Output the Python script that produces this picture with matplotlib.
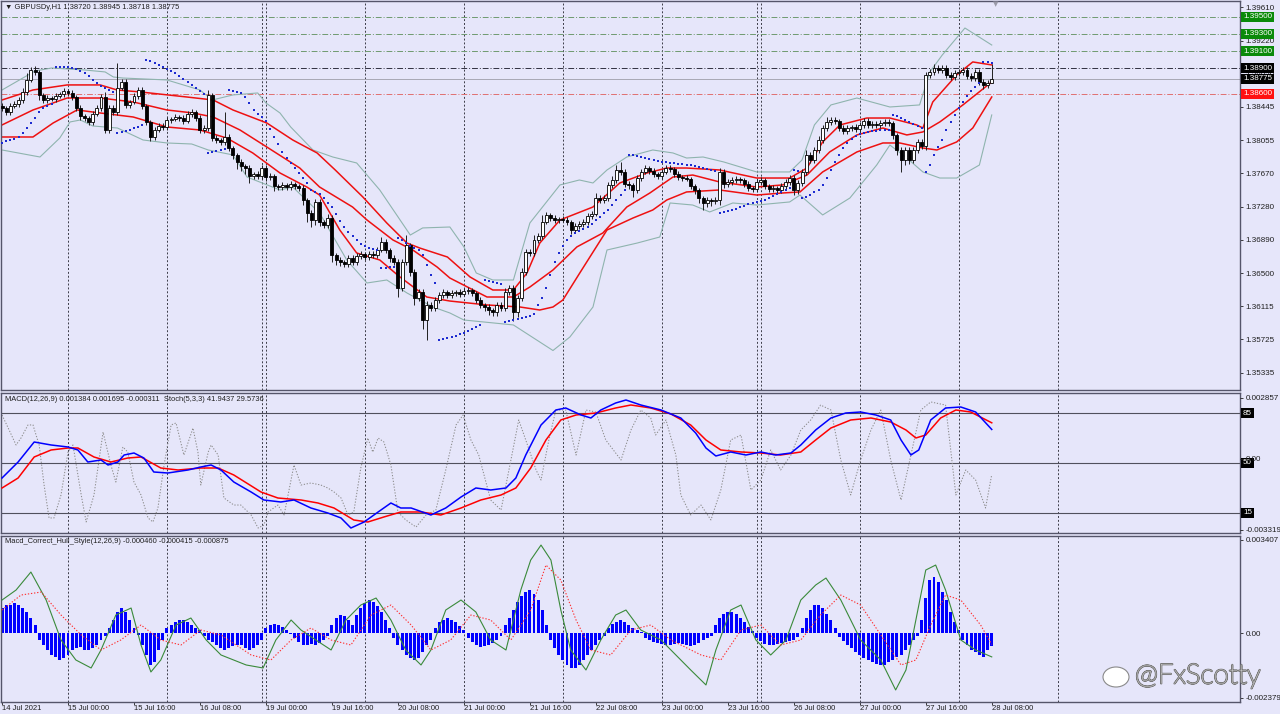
import numpy as np
import matplotlib.pyplot as plt
import matplotlib.patheffects as pe
from matplotlib.patches import Ellipse

plt.rcParams['font.family'] = ['Liberation Sans', 'DejaVu Sans']

# ── Data (GBPUSD H1, 14 Jul 08:00 .. 28 Jul 08:00, one value per bar) ─────
first_open = 1.38457
close = [
    1.38433, 1.38387, 1.38457, 1.38480, 1.38527, 1.38621, 1.38761, 1.38878, 1.38855, 1.38586,
    1.38527, 1.38550, 1.38539, 1.38574, 1.38597, 1.38632, 1.38609, 1.38562, 1.38433, 1.38340,
    1.38316, 1.38270, 1.38363, 1.38433, 1.38562, 1.38176, 1.38433, 1.38387, 1.38667, 1.38738,
    1.38469, 1.38504, 1.38574, 1.38644, 1.38457, 1.38270, 1.38094, 1.38176, 1.38223, 1.38211,
    1.38293, 1.38305, 1.38328, 1.38316, 1.38281, 1.38363, 1.38387, 1.38316, 1.38176, 1.38199,
    1.38586, 1.38082, 1.38059, 1.38036, 1.38094, 1.37965, 1.37884, 1.37802, 1.37755, 1.37731,
    1.37638, 1.37661, 1.37638, 1.37731, 1.37626, 1.37638, 1.37521, 1.37509, 1.37533, 1.37509,
    1.37544, 1.37521, 1.37497, 1.37357, 1.37205, 1.37123, 1.37334, 1.37100, 1.37065, 1.37146,
    1.36714, 1.36655, 1.36632, 1.36608, 1.36678, 1.36632, 1.36702, 1.36725, 1.36690, 1.36725,
    1.36714, 1.36772, 1.36866, 1.36772, 1.36678, 1.36632, 1.36327, 1.36632, 1.36831, 1.36515,
    1.36210, 1.36281, 1.35953, 1.36129, 1.36093, 1.36187, 1.36246, 1.36281, 1.36246, 1.36269,
    1.36281, 1.36257, 1.36292, 1.36304, 1.36269, 1.36187, 1.36129, 1.36105, 1.36070, 1.36047,
    1.36129, 1.36093, 1.36281, 1.36327, 1.36047, 1.36210, 1.36515, 1.36749, 1.36737, 1.36889,
    1.36936, 1.37100, 1.37182, 1.37146, 1.37123, 1.37135, 1.37123, 1.37100, 1.37006, 1.37053,
    1.37076, 1.37100, 1.37170, 1.37193, 1.37380, 1.37357, 1.37380, 1.37533, 1.37591, 1.37708,
    1.37685, 1.37544, 1.37533, 1.37474, 1.37614, 1.37685, 1.37731, 1.37696, 1.37661, 1.37638,
    1.37685, 1.37731, 1.37720, 1.37661, 1.37626, 1.37614, 1.37605, 1.37521, 1.37474, 1.37380,
    1.37322, 1.37357, 1.37345, 1.37357, 1.37685, 1.37544, 1.37568, 1.37591, 1.37603, 1.37591,
    1.37544, 1.37497, 1.37486, 1.37568, 1.37591, 1.37521, 1.37486, 1.37497, 1.37474, 1.37521,
    1.37568, 1.37614, 1.37474, 1.37556, 1.37685, 1.37884, 1.37825, 1.37942, 1.38059, 1.38199,
    1.38270, 1.38293, 1.38281, 1.38199, 1.38164, 1.38199, 1.38211, 1.38188, 1.38235, 1.38281,
    1.38235, 1.38246, 1.38235, 1.38258, 1.38270, 1.38258, 1.38118, 1.37942, 1.37825, 1.37942,
    1.37825, 1.37942, 1.38036, 1.37989, 1.38820, 1.38855, 1.38901, 1.38878, 1.38901, 1.38820,
    1.38796, 1.38843, 1.38855, 1.38878, 1.38808, 1.38784, 1.38855, 1.38738, 1.38703, 1.38720,
    1.38775,
]
# wick lengths beyond the body, in pips
wick_up = [
    3, 2, 3, 4, 3, 5, 8, 4, 5, 2,   2, 3, 2, 3, 2, 3, 2, 3, 2, 3,
    2, 2, 3, 3, 4, 6, 3, 4, 29, 4,  3, 2, 3, 4, 3, 2, 2, 3, 4, 3,
    3, 2, 3, 2, 3, 3, 4, 2, 3, 3,   6, 2, 3, 2, 29, 3, 2, 2, 3, 2,
    3, 2, 4, 3, 3, 3, 2, 2, 3, 2,   3, 2, 2, 3, 2, 3, 4, 3, 2, 5,
    3, 2, 3, 2, 4, 3, 3, 3, 2, 3,   3, 3, 6, 3, 2, 3, 3, 4, 12, 2,
    3, 4, 3, 5, 4, 3, 3, 4, 2, 3,   2, 3, 3, 3, 2, 2, 3, 2, 3, 2,
    4, 3, 5, 4, 3, 4, 5, 4, 3, 6,   4, 8, 3, 2, 3, 2, 3, 3, 2, 4,
    3, 3, 4, 3, 6, 3, 4, 4, 5, 6,   9, 3, 3, 2, 3, 4, 3, 2, 3, 2,
    3, 4, 3, 2, 3, 2, 3, 2, 2, 2,   2, 3, 2, 3, 5, 3, 4, 3, 3, 2,
    2, 3, 2, 4, 3, 2, 2, 3, 2, 3,   3, 4, 3, 3, 4, 6, 3, 4, 5, 4,
    6, 3, 3, 2, 3, 3, 2, 3, 4, 4,   3, 3, 3, 3, 3, 3, 2, 2, 3, 3,
    3, 3, 4, 3, 4, 4, 5, 4, 3, 3,   3, 4, 3, 4, 3, 3, 4, 3, 3, 4,
    17,
]
wick_dn = [
    3, 4, 3, 2, 3, 3, 3, 2, 3, 6,   3, 3, 2, 3, 2, 3, 3, 4, 3, 5,
    4, 3, 3, 2, 3, 4, 3, 3, 3, 2,   4, 3, 2, 3, 4, 3, 5, 3, 2, 3,
    3, 3, 2, 3, 3, 2, 3, 3, 4, 3,   3, 4, 3, 3, 3, 4, 5, 8, 6, 7,
    8, 4, 3, 3, 5, 3, 6, 4, 3, 3,   3, 4, 3, 6, 10, 8, 6, 5, 4, 3,
    8, 6, 5, 4, 3, 4, 3, 3, 3, 3,   3, 3, 2, 4, 5, 4, 10, 4, 3, 5,
    8, 4, 10, 23, 4, 3, 3, 3, 3, 3, 3, 3, 2, 3, 3, 4, 4, 5, 6, 5,
    5, 4, 3, 4, 10, 6, 3, 4, 3, 3,  3, 3, 2, 3, 3, 3, 2, 3, 5, 3,
    3, 3, 3, 3, 2, 3, 3, 3, 3, 3,   3, 4, 5, 8, 3, 3, 2, 3, 3, 4,
    3, 2, 3, 3, 3, 3, 3, 4, 5, 6,   8, 5, 6, 4, 6, 5, 3, 3, 3, 3,
    3, 4, 3, 3, 3, 4, 3, 3, 4, 3,   3, 3, 6, 5, 3, 4, 4, 3, 3, 3,
    3, 3, 3, 4, 3, 3, 3, 3, 3, 3,   3, 3, 3, 3, 3, 3, 5, 6, 14, 6,
    5, 4, 3, 4, 5, 3, 3, 3, 3, 3,   4, 3, 3, 3, 4, 4, 3, 4, 5, 4,
    0,
]
# Parabolic SAR, one dot per bar
sar = [
    1.38024, 1.38047, 1.38059, 1.38071, 1.38094, 1.38141, 1.38199, 1.38258, 1.38316, 1.38387,
    1.38433, 1.38457, 1.38480,
    1.38913, 1.38913, 1.38913, 1.38913, 1.38901, 1.38890, 1.38866, 1.38843, 1.38808, 1.38761,
    1.38726, 1.38691, 1.38667, 1.38644, 1.38621,
    1.38141, 1.38153, 1.38164, 1.38176, 1.38199, 1.38211, 1.38235,
    1.38995, 1.38983, 1.38960, 1.38937, 1.38913, 1.38890, 1.38866, 1.38843, 1.38808, 1.38773,
    1.38738, 1.38703, 1.38667, 1.38632, 1.38597,
    1.37907, 1.37919, 1.37930, 1.37942, 1.37954,
    1.38644, 1.38632, 1.38621, 1.38609, 1.38562, 1.38492, 1.38410, 1.38363, 1.38328, 1.38281,
    1.38188, 1.38094, 1.38012, 1.37919, 1.37848, 1.37790, 1.37731, 1.37673, 1.37614, 1.37556,
    1.37474, 1.37451, 1.37427, 1.37380, 1.37322, 1.37275, 1.37193, 1.37111, 1.37041, 1.36983,
    1.36936, 1.36889, 1.36842, 1.36819, 1.36795, 1.36784, 1.36772,
    1.36561, 1.36561, 1.36573, 1.36573,
    1.36912, 1.36889, 1.36853, 1.36819, 1.36795, 1.36772, 1.36714, 1.36597, 1.36479, 1.36386,
    1.35719, 1.35731, 1.35742, 1.35754, 1.35766, 1.35789, 1.35801, 1.35824, 1.35848, 1.35871,
    1.35895,
    1.36421, 1.36409, 1.36397, 1.36386, 1.36374,
    1.35930, 1.35941, 1.35953, 1.35965, 1.35976, 1.35988, 1.36000, 1.36023, 1.36129, 1.36210,
    1.36327, 1.36479, 1.36632, 1.36737, 1.36819, 1.36889, 1.36936, 1.36971, 1.36994, 1.37018,
    1.37041, 1.37076, 1.37123, 1.37158, 1.37205, 1.37240, 1.37298, 1.37357, 1.37415, 1.37474,
    1.37884, 1.37884, 1.37872, 1.37860, 1.37848, 1.37837, 1.37825, 1.37813, 1.37802, 1.37802,
    1.37790, 1.37790, 1.37778, 1.37778, 1.37766, 1.37766, 1.37755, 1.37743, 1.37731, 1.37719,
    1.37708, 1.37696,
    1.37205, 1.37217, 1.37228, 1.37240, 1.37252, 1.37275, 1.37287, 1.37310, 1.37322, 1.37334,
    1.37345, 1.37357, 1.37380, 1.37404, 1.37427, 1.37451, 1.37474, 1.37497,
    1.37708, 1.37696,
    1.37380, 1.37392, 1.37415, 1.37451, 1.37474, 1.37533, 1.37614, 1.37708, 1.37802, 1.37884,
    1.37965, 1.38024, 1.38071, 1.38106, 1.38129, 1.38141, 1.38153, 1.38164, 1.38164, 1.38176,
    1.38176, 1.38176,
    1.38352, 1.38340, 1.38316, 1.38293, 1.38270, 1.38246, 1.38223, 1.38199,
    1.37685, 1.37766, 1.37884, 1.37977, 1.38059, 1.38176, 1.38270, 1.38352, 1.38433, 1.38504,
    1.38574, 1.38632, 1.38679, 1.38726,
    1.38972, 1.38972, 1.38960,
]

# Bollinger bands (grey) read at the bars listed beside them
bbu_bars = [0, 8, 12, 20, 25, 27, 29.3, 40, 48, 51, 56, 62, 64, 67.4, 70, 75.4, 80.2, 86, 91.6,
            99, 102, 108.6, 112, 115, 119, 124, 128, 135.3, 140, 143.3, 146.7, 151.5, 157.8,
            162.7, 166, 170, 175, 183, 191, 194, 197, 201, 207.3, 215.3, 222.5, 225, 228,
            233.5, 240]
bb_upper = [1.38644, 1.38866, 1.38901, 1.38878, 1.38855, 1.38796, 1.38784, 1.38761, 1.38644,
            1.38527, 1.38586, 1.38609, 1.38492, 1.38375, 1.38211, 1.37942, 1.37860, 1.37790,
            1.37474, 1.36947, 1.37030, 1.37041, 1.36808, 1.36503, 1.36421, 1.36421, 1.37088,
            1.37533, 1.37591, 1.37556, 1.37708, 1.37860, 1.37942, 1.37907, 1.37848, 1.37860,
            1.37802, 1.37685, 1.37685, 1.37825, 1.38235, 1.38469, 1.38550, 1.38445, 1.38469,
            1.38855, 1.39053, 1.39369, 1.39170]
bbl_bars = [0, 9.2, 14, 16.5, 19, 22, 28, 34.2, 40, 46, 50, 56, 59.4, 67.4, 70.5, 77, 83.6,
            88.5, 93.3, 98.2, 104.5, 108.6, 112, 124, 133.6, 137.7, 143.3, 146.7, 154, 159.5,
            162, 167.5, 171.6, 177.2, 183, 191, 193.5, 199, 205.6, 212.1, 215.3, 219.4, 223.3,
            227.4, 231.5, 237, 240]
bb_lower = [1.37942, 1.37860, 1.38082, 1.38270, 1.38293, 1.38223, 1.38199, 1.38059, 1.38024,
            1.38012, 1.37942, 1.37884, 1.37626, 1.37474, 1.37509, 1.37205, 1.36655, 1.36386,
            1.36421, 1.36269, 1.36105, 1.36035, 1.35953, 1.35895, 1.35596, 1.35754, 1.36105,
            1.36772, 1.36853, 1.36924, 1.37322, 1.37298, 1.37217, 1.37322, 1.37298, 1.37334,
            1.37415, 1.37182, 1.37380, 1.37766, 1.38000, 1.37848, 1.37685, 1.37614, 1.37614,
            1.37766, 1.38352]

# red envelope lines
envu_bars = [0, 7.5, 15.8, 23.8, 27.9, 33.5, 44.8, 51.2, 56, 64.2, 70.5, 76.4, 80.8, 87.5, 93.3,
             98.2, 101.3, 108, 113.5, 119, 124, 127.3, 130.4, 135.3, 143.3, 149.8, 156.4, 161.2,
             166, 174, 183, 191, 195.2, 199, 203.2, 209.7, 215.3, 221.8, 223.3, 225.7, 231.5,
             235.4, 240]
env_upper = [1.38527, 1.38644, 1.38703, 1.38703, 1.38644, 1.38621, 1.38562, 1.38527, 1.38410,
             1.38258, 1.38059, 1.37907, 1.37708, 1.37392, 1.37088, 1.36853, 1.36795, 1.36690,
             1.36456, 1.36304, 1.36304, 1.36503, 1.36853, 1.37123, 1.37275, 1.37556, 1.37673,
             1.37731, 1.37731, 1.37708, 1.37614, 1.37614, 1.37731, 1.38036, 1.38235, 1.38316,
             1.38316, 1.38235, 1.38199, 1.38504, 1.38820, 1.38972, 1.38937]
envm_bars = [0, 7.5, 15.8, 23.8, 31.8, 40, 46.3, 51.2, 57.7, 64.2, 72.2, 77, 85, 88.5, 94.8,
             99.6, 105.5, 108.6, 117.6, 124, 128, 133.6, 139.4, 145.7, 151.5, 157.1, 162.7,
             167.5, 174, 183, 189.3, 195.2, 200.7, 207.3, 213.6, 219.4, 223.3, 227.4, 233, 240]
env_mid = [1.38235, 1.38410, 1.38550, 1.38550, 1.38504, 1.38410, 1.38375, 1.38328, 1.38176,
           1.37977, 1.37731, 1.37509, 1.37275, 1.37123, 1.36889, 1.36772, 1.36573, 1.36444,
           1.36222, 1.36222, 1.36339, 1.36538, 1.36808, 1.36971, 1.37275, 1.37439, 1.37626,
           1.37649, 1.37568, 1.37509, 1.37533, 1.37649, 1.37919, 1.38118, 1.38199, 1.38118,
           1.38153, 1.38270, 1.38469, 1.38738]
envl_bars = [0, 7.5, 12.4, 18.2, 23.8, 31.8, 40, 48, 54.5, 60.8, 67.4, 73.9, 77, 81.9, 86,
             91.6, 96.5, 103, 108.6, 117.6, 125.6, 130.4, 133.6, 136, 140.1, 146.7, 153, 157.8,
             161.2, 166, 174, 183, 189.3, 193.5, 199, 207.3, 213.6, 217.7, 223.3, 226.7, 231.5,
             235.4, 240]
env_lower = [1.38094, 1.38094, 1.38258, 1.38410, 1.38375, 1.38328, 1.38211, 1.38176, 1.38082,
             1.37907, 1.37673, 1.37509, 1.37415, 1.37006, 1.36737, 1.36655, 1.36456, 1.36222,
             1.36175, 1.36129, 1.36105, 1.36070, 1.36105, 1.36187, 1.36503, 1.37006, 1.37146,
             1.37240, 1.37357, 1.37451, 1.37474, 1.37415, 1.37439, 1.37451, 1.37685, 1.37919,
             1.38024, 1.38024, 1.37965, 1.37942, 1.38036, 1.38199, 1.38562]

# MACD(12,26,9) main and signal
macd_bars = [0, 3.9, 7.8, 11.9, 16, 18.4, 20.8, 24, 25.7, 28.1, 29.6, 32, 34.4, 36.8, 40.2, 45.1,
             48.2, 50.7, 53.1, 56.2, 60.4, 63.5, 67.6, 70.8, 74.9, 79, 82.2, 84.6, 87.8, 91.2, 94.3,
             96.7, 99.2, 104, 107.6, 111.3, 114.9, 118.5, 122.2, 124.6, 127, 130.7, 134.3, 136.7,
             140.4, 142.8, 145.2, 148.8, 151.3, 154.9, 159.8, 164.6, 168.2, 170.7, 173.1, 176.7,
             180.4, 184, 187.6, 191.3, 193.7, 197.3, 201, 204.6, 208.2, 211.9, 215.5, 218, 220.4,
             222.3, 225.2, 228.8, 232.5, 236.1, 240]
macd_main = [-0.000890, -0.000141, 0.000796, 0.000656, 0.000562, 0.000422, -0.000141, -0.000047,
             -0.000281, -0.000141, 0.000187, 0.000281, 0.000047, -0.000609, -0.000656, -0.000515,
             -0.000375, -0.000281, -0.000515, -0.001077, -0.001546, -0.001920, -0.002014, -0.001920,
             -0.002295, -0.002529, -0.002763, -0.003232, -0.002951, -0.002482, -0.002061, -0.002295,
             -0.002295, -0.002623, -0.002295, -0.001780, -0.001358, -0.001452, -0.001358, -0.000890,
             0.000187, 0.001592, 0.002295, 0.002389, 0.002061, 0.001920, 0.002295, 0.002623,
             0.002763, 0.002529, 0.002295, 0.001920, 0.001218, 0.000515, 0.000141, 0.000328,
             0.000187, 0.000328, 0.000187, 0.000281, 0.000656, 0.001358, 0.001920, 0.002154,
             0.002201, 0.002061, 0.001827, 0.000890, 0.000187, 0.000422, 0.001827, 0.002389,
             0.002435, 0.002201, 0.001384]
signal_bars = [0, 3.9, 7.8, 11.9, 16, 18.4, 22.3, 26.4, 30.5, 33.7, 38.5, 42.7, 48.2, 52.4, 56.2,
               62.8, 66.9, 72.5, 76.6, 80.5, 85.3, 88.7, 92.6, 96.7, 101.6, 106.4, 111.3, 116.1,
               121, 124.6, 128.2, 131.9, 135.5, 139.2, 144, 148.8, 152.5, 157.3, 162.2, 167,
               170.7, 174.3, 179.2, 184, 188.8, 193.7, 197.3, 201, 205.8, 210.7, 215.5, 219.2,
               221.6, 224, 227.6, 231.3, 234.9, 240]
macd_signal = [-0.001358, -0.000890, 0.000094, 0.000422, 0.000515, 0.000515, 0.000094, -0.000141,
               0.000047, 0.000094, -0.000422, -0.000515, -0.000422, -0.000422, -0.000749, -0.001546,
               -0.001827, -0.001920, -0.002061, -0.002295, -0.002857, -0.002951, -0.002716,
               -0.002482, -0.002482, -0.002623, -0.002295, -0.001920, -0.001686, -0.001358,
               -0.000422, 0.000890, 0.001827, 0.002061, 0.002154, 0.002389, 0.002529, 0.002389,
               0.002108, 0.001592, 0.000890, 0.000422, 0.000328, 0.000281, 0.000187, 0.000328,
               0.000890, 0.001452, 0.001827, 0.001920, 0.001733, 0.001358, 0.000984, 0.001124,
               0.001920, 0.002295, 0.002201, 0.001695]

# Stochastic(5,3,3) main line
stoch_bars = [0, 1.5, 3.4, 4.6, 6.3, 7.5, 9, 10.2, 11.4, 12.6, 14.3, 16, 17.2, 19.2, 20.4, 22.3,
              24.5, 26.4, 27.6, 29.3, 30.5, 32, 33.7, 35.4, 36.6, 37.8, 39.3, 41, 42.2, 44.1, 46.3,
              47.5, 48.2, 50, 50.7, 52.4, 53.8, 56.2, 57.9, 60.4, 62.1, 63.5, 64.5, 66.9, 68.4,
              70.8, 72.5, 74.9, 77.3, 79, 80.5, 82.2, 83.9, 85.3, 87, 88.7, 89.9, 91.2, 92.6, 94.3,
              96, 97.9, 100.4, 102.8, 105.2, 107.6, 110.1, 111.8, 113.7, 115.6, 118.5, 121, 123.4,
              125.3, 127, 129.5, 130.7, 132.6, 134.3, 136.7, 139.2, 141.6, 144, 146.4, 150.1, 152.5,
              154.9, 157.3, 158.5, 161, 163.4, 164.6, 167, 169.5, 171.9, 174.3, 176.7, 179.2, 181.6,
              184, 186.4, 188.8, 191.3, 193.7, 196.1, 198.5, 201, 203.4, 205.8, 208.2, 210.7, 213.1,
              215.5, 218, 220.4, 222.8, 225.2, 228.8, 231.3, 233.7, 236.1, 238.5, 240]
stoch_main = [83.8, 74.6, 62.7, 67.6, 76.8, 76.8, 62.7, 34.5, 11.3, 11.3, 27.5, 57.7, 62.7, 27.5,
              8.5, 27.5, 71.8, 48.6, 36.6, 61.3, 57.7, 36.6, 27.5, 11.3, 8.5, 18.3, 48.6, 76.8,
              78.2, 55.6, 74.6, 57.7, 34.5, 57.7, 62.7, 55.6, 25.4, 20.4, 20.4, 13.4, 4.2, 6.3,
              15.5, 20.4, 13.4, 48.6, 34.5, 35.9, 34.5, 32.4, 29.6, 25.4, 13.4, 15.5, 46.5, 67.6,
              57.7, 67.6, 64.8, 48.6, 15.5, 9.9, 4.9, 13.4, 16.9, 45.1, 76.8, 83.8, 66.2, 55.6,
              23.9, 16.9, 52.1, 80.3, 66.2, 45.1, 38.0, 66.2, 87.3, 87.3, 55.6, 87.3, 85.9, 66.2,
              52.1, 73.2, 87.3, 81.7, 69.7, 80.3, 55.6, 27.5, 13.4, 20.4, 9.9, 31.0, 66.2, 69.7,
              31.0, 38.0, 59.2, 45.1, 55.6, 73.2, 80.3, 90.8, 87.3, 52.1, 27.5, 52.1, 73.2, 87.3,
              52.1, 23.9, 55.6, 87.3, 93.0, 90.8, 27.5, 45.1, 38.0, 18.3, 41.9]
stoch_levels = [85, 50, 15]

# Macd_Correct_Hull_Style(12,26,9): histogram, one value per bar
hull_hist = [
    0.000915, 0.001025, 0.001025, 0.001098, 0.001025, 0.000915, 0.000769, 0.000549, 0.000293,
    -0.000256, -0.000439, -0.000622, -0.000805, -0.000878, -0.000988, -0.000915, -0.000805,
    -0.000622, -0.000549, -0.000512, -0.000622, -0.000622, -0.000549, -0.000439, -0.000256,
    -0.000110, 0.000183, 0.000476, 0.000769, 0.000915, 0.000769, 0.000476, 0.000183, -0.000073,
    -0.000439, -0.000805, -0.001171, -0.001061, -0.000622, -0.000256,
    0.000183, 0.000293, 0.000403, 0.000476, 0.000476, 0.000403, 0.000293, 0.000183, 0.000110,
    -0.000110, -0.000256,
    -0.000329, -0.000439, -0.000549, -0.000622, -0.000549, -0.000476, -0.000439, -0.000439,
    -0.000549, -0.000622, -0.000549, -0.000439, -0.000256,
    0.000183, 0.000293, 0.000329, 0.000293, 0.000220, 0.000110, -0.000037,
    -0.000183, -0.000329, -0.000439, -0.000439, -0.000403, -0.000439, -0.000366, -0.000256, -0.000110,
    0.000293, 0.000549, 0.000659, 0.000622, 0.000476, 0.000293,
    0.000659, 0.000915, 0.001098, 0.001208, 0.001135, 0.000988, 0.000769, 0.000476, 0.000183,
    -0.000183, -0.000439, -0.000622, -0.000805, -0.000915, -0.000988, -0.000915, -0.000695,
    -0.000439, -0.000256,
    0.000183, 0.000403, 0.000476, 0.000549, 0.000476, 0.000403, 0.000256, 0.000110,
    -0.000183, -0.000329, -0.000439, -0.000512, -0.000476, -0.000439, -0.000366, -0.000256, -0.000110,
    0.000293, 0.000549, 0.000842, 0.001135, 0.001354, 0.001501, 0.001574, 0.001427, 0.001208,
    0.000842, 0.000293,
    -0.000256, -0.000549, -0.000805, -0.000988, -0.001171, -0.001281, -0.001281, -0.001171,
    -0.000988, -0.000805, -0.000622, -0.000439, -0.000256, -0.000110,
    0.000183, 0.000329, 0.000403, 0.000476, 0.000403, 0.000293, 0.000183, 0.000110, 0.000037,
    -0.000183, -0.000256, -0.000329, -0.000366, -0.000403, -0.000439, -0.000439, -0.000403,
    -0.000366, -0.000403, -0.000439, -0.000476, -0.000439, -0.000366, -0.000256, -0.000183, -0.000110,
    0.000293, 0.000549, 0.000695, 0.000769, 0.000769, 0.000695, 0.000549, 0.000403, 0.000220, 0.000073,
    -0.000183, -0.000293, -0.000403, -0.000439, -0.000439, -0.000403, -0.000366, -0.000329,
    -0.000293, -0.000256, -0.000146,
    0.000183, 0.000549, 0.000842, 0.001025, 0.001025, 0.000915, 0.000695, 0.000476, 0.000183,
    -0.000146, -0.000293, -0.000439, -0.000549, -0.000695, -0.000805, -0.000915, -0.000988,
    -0.001061, -0.001135, -0.001171, -0.001171, -0.001061, -0.000988, -0.000878, -0.000805,
    -0.000622, -0.000439, -0.000256, -0.000110,
    0.000476, 0.001281, 0.001940, 0.002050, 0.001867, 0.001501, 0.001208, 0.000769, 0.000403, 0.000110,
    -0.000256, -0.000439, -0.000622, -0.000695, -0.000805, -0.000878, -0.000622, -0.000460,
]
hull_bars = [0, 3.4, 7, 10.7, 14.3, 17.9, 21.6, 24, 27.6, 31.3, 33.7, 36.1, 38.5, 42.2, 45.8, 49.5,
             53.1, 59.2, 63.3, 66.4, 70.1, 72.5, 76.1, 79.8, 83.4, 87, 90.7, 94.3, 97.9, 101.6, 104,
             107.6, 111.3, 114.9, 118.5, 122.2, 125.8, 128.2, 130.7, 133.1, 135.5, 137.9, 141.6,
             145.2, 148.8, 151.3, 154.9, 159.8, 167, 170.7, 173.1, 176.7, 179.2, 182.8, 186.4,
             190.1, 193.7, 197.3, 199.8, 203.4, 208.2, 213.1, 216.7, 219.2, 221.6, 224, 226.4,
             228.8, 232.5, 236.1, 240]
hull_line = [0.001208, 0.001574, 0.002233, 0.001208, -0.000256, -0.000988, -0.001281, -0.000622,
             0.000659, 0.000915, -0.000439, -0.001427, -0.000988, 0.000293, 0.000549, -0.000256,
             -0.000805, -0.001171, -0.001281, -0.000256, 0.000476, 0.000110, -0.000256, -0.000622,
             0.000476, 0.001025, 0.001281, 0.000476, -0.000622, -0.001171, -0.000622, 0.000842,
             0.001208, 0.000769, -0.000256, -0.000622, 0.001574, 0.002672, 0.003221, 0.002672,
             0.000842, -0.000622, -0.001354, -0.000256, 0.000659, 0.000842, 0.000110, -0.000256,
             -0.001354, -0.001903, -0.000622, 0.000842, 0.001025, -0.000256, -0.000805, -0.000256,
             0.001208, 0.001757, 0.002013, 0.001208, -0.000256, -0.000988, -0.002086, -0.001354,
             0.000476, 0.002306, 0.002489, 0.001574, -0.000256, -0.000622, -0.000875]
trig_bars = [0, 4.6, 9.5, 14.3, 19.2, 24, 28.8, 33.7, 38.5, 43.4, 48.2, 53.1, 60.4, 65.2, 70.1,
             74.9, 79.8, 84.6, 89.5, 94.3, 99.2, 104, 108.8, 113.7, 118.5, 123.4, 128.2, 131.9,
             135.5, 139.2, 142.8, 147.6, 152.5, 157.3, 162.2, 169.5, 174.3, 179.2, 184, 188.8,
             193.7, 198.5, 203.4, 208.2, 213.1, 218, 221.6, 225.2, 228.8, 232.5, 237.3, 240]
hull_trigger = [0.000842, 0.001391, 0.001501, 0.000659, -0.000073, -0.000622, -0.000256, 0.000293,
                -0.000256, -0.000439, 0.000110, -0.000073, -0.000805, -0.000988, -0.000256, 0.000183,
                -0.000256, -0.000439, 0.000659, 0.001025, 0.000293, -0.000622, -0.000256, 0.000659,
                0.000476, -0.000256, 0.000842, 0.002489, 0.001940, 0.000476, -0.000622, -0.000805,
                0.000110, 0.000293, -0.000256, -0.000805, -0.000988, 0.000110, 0.000293, -0.000439,
                -0.000256, 0.000659, 0.001391, 0.001025, -0.000073, -0.001171, -0.000988, 0.000293,
                0.001391, 0.001208, 0.000293, -0.000415]

price_ticks = [1.39610, 1.39220, 1.38830, 1.38445, 1.38055, 1.37670, 1.37280, 1.36890,
               1.36500, 1.36115, 1.35725, 1.35335]
green_levels = [1.39500, 1.39300, 1.39100]
black_level = 1.38900
bid_price = 1.38775
red_level = 1.38600
day_breaks = [16, 40, 63, 64, 88, 112, 136, 160, 183, 184, 208, 232, 256]
time_ticks = list(range(0, 241, 16))
time_labels = ["14 Jul 2021", "15 Jul 00:00", "15 Jul 16:00", "16 Jul 08:00", "19 Jul 00:00",
               "19 Jul 16:00", "20 Jul 08:00", "21 Jul 00:00", "21 Jul 16:00", "22 Jul 08:00",
               "23 Jul 00:00", "23 Jul 16:00", "26 Jul 08:00", "27 Jul 00:00", "27 Jul 16:00",
               "28 Jul 08:00"]

# ── Style ──────────────────────────────────────────────────────────
BG = "#e6e6fa"
FRAME = "#55556a"
SEP = "#3c3c48"
TXT = "#1e1e1e"
FS = 5.8      # axis labels
FT = 5.4      # indicator captions
W, H = 1280, 714
X0, X1 = 1, 1240


def panel(fig, top, bottom):
    ax = fig.add_axes([X0 / W, 1 - bottom / H, (X1 - X0) / W, (bottom - top) / H])
    ax.set_facecolor(BG)
    for s in ax.spines.values():
        s.set_color(FRAME)
        s.set_linewidth(1.0)
    ax.set_xlim(-0.25, 300.2)
    ax.yaxis.tick_right()
    ax.tick_params(axis='y', labelsize=FS, length=2.5, pad=1.5, colors=TXT, width=0.6)
    ax.tick_params(axis='x', bottom=False, labelbottom=False)
    for b in day_breaks:
        ax.axvline(b, color=SEP, lw=0.7, ls=(0, (2, 2)), zorder=0.5)
    return ax


def box(ax, y, text, fc):
    ax.text(1.0025, y, text, transform=ax.get_yaxis_transform(), ha='left', va='center',
            fontsize=FS, color='white', clip_on=False, zorder=10,
            bbox=dict(boxstyle='square,pad=0.2', fc=fc, ec='none'))


fig = plt.figure(figsize=(W / 100, H / 100), dpi=100)
fig.patch.set_facecolor(BG)

# ── Main price panel ──────────────────────────────────────────────
ax = panel(fig, 1, 390)
ax.set_ylim(1.35134, 1.39685)
ax.set_yticks(price_ticks)
ax.set_yticklabels([f"{t:.5f}" for t in price_ticks])

c = np.array(close)
o = np.concatenate([[first_open], c[:-1]])
hi = np.maximum(o, c) + np.array(wick_up) * 1e-4
lo = np.minimum(o, c) - np.array(wick_dn) * 1e-4
x = np.arange(len(c))
bull = c >= o

ax.plot(bbu_bars, bb_upper, color="#8fb4ae", lw=0.8, zorder=2)
ax.plot(bbl_bars, bb_lower, color="#8fb4ae", lw=0.8, zorder=2)
ax.plot(envu_bars, env_upper, color="#ee1111", lw=1.1, zorder=2)
ax.plot(envm_bars, env_mid, color="#ee1111", lw=1.1, zorder=2)
ax.plot(envl_bars, env_lower, color="#ee1111", lw=1.1, zorder=2)

for lvl in green_levels:
    ax.axhline(lvl, color="#6f9a6f", lw=0.7, ls=(0, (6, 2, 1, 2)), zorder=1)
ax.axhline(black_level, color="#303040", lw=0.7, ls=(0, (6, 2, 1, 2)), zorder=1)
ax.axhline(bid_price, color="#a8a8b4", lw=0.7, zorder=1)
ax.axhline(red_level, color="#e07070", lw=0.7, ls=(0, (6, 2, 1, 2)), zorder=1)

ax.vlines(x, lo, hi, color="#202020", lw=0.7, zorder=3)
body_lo = np.minimum(o, c)
body_h = np.maximum(np.abs(c - o), 0.00002)
ax.bar(x[bull], body_h[bull], bottom=body_lo[bull], width=0.72, color="white",
       edgecolor="black", linewidth=0.6, zorder=4)
ax.bar(x[~bull], body_h[~bull], bottom=body_lo[~bull], width=0.72, color="black",
       edgecolor="black", linewidth=0.6, zorder=4)

ax.scatter(x, sar, s=2.2, marker='s', color="#1d2bd0", linewidths=0, zorder=5)

for lvl in green_levels:
    box(ax, lvl, f"{lvl:.5f}", "#0a8a0a")
box(ax, black_level, f"{black_level:.5f}", "#000000")
box(ax, bid_price, f"{bid_price:.5f}", "#000000")
box(ax, red_level, f"{red_level:.5f}", "#ff1010")

ax.text(0.003, 0.993, "\u25bc GBPUSDy,H1 1.38720 1.38945 1.38718 1.38775",
        transform=ax.transAxes, ha='left', va='top', fontsize=FT, color=TXT)
ax.text(241, 1.39678, "\u25bc", fontsize=5, color="#9a9aa8", ha='center', va='top',
        family=['DejaVu Sans'])

# ── MACD + Stochastic panel ───────────────────────────────────────
axs = panel(fig, 393, 533)
axs.set_ylim(0.7, 99.3)
axs.set_yticks([])
for lvl in stoch_levels:
    axs.axhline(lvl, color="#50505c", lw=0.8, zorder=1)
axs.plot(stoch_bars, stoch_main, color="#8c8c8c", lw=0.75, ls=(0, (1.2, 1.6)), zorder=2)
for lvl in stoch_levels:
    box(axs, lvl, f"{lvl}", "#000000")

ax2 = fig.add_axes(axs.get_position(), sharex=axs)
ax2.patch.set_visible(False)
for s in ax2.spines.values():
    s.set_visible(False)
ax2.yaxis.tick_right()
ax2.tick_params(axis='y', labelsize=FS, length=2.5, pad=1.5, colors=TXT, width=0.6)
ax2.tick_params(axis='x', bottom=False, labelbottom=False)
ax2.set_ylim(-0.003466, 0.003091)
ax2.set_yticks([0.002857, 0.0, -0.003319])
ax2.set_yticklabels(["0.002857", "0.00", "-0.003319"])
ax2.plot(signal_bars, macd_signal, color="#ff0000", lw=1.1, zorder=3)
ax2.plot(macd_bars, macd_main, color="#0000ff", lw=1.1, zorder=4)
ax2.text(0.003, 0.978,
         "MACD(12,26,9) 0.001384 0.001695 -0.000311  Stoch(5,3,3) 41.9437 29.5736",
         transform=ax2.transAxes, ha='left', va='top', fontsize=FT, color=TXT)

# ── Hull-style MACD histogram panel ──────────────────────────────
ax3 = panel(fig, 536, 702)
ax3.set_ylim(-0.002527, 0.003553)
ax3.set_yticks([0.003407, 0.0, -0.002379])
ax3.set_yticklabels(["0.003407", "0.00", "-0.002379"])
ax3.bar(x, hull_hist, width=0.72, color="#0000ff", zorder=2)
ax3.plot(hull_bars, hull_line, color="#3a8a3a", lw=0.8, zorder=3)
ax3.plot(trig_bars, hull_trigger, color="#ff3030", lw=0.8, ls=(0, (1.2, 1.6)), zorder=3)
ax3.text(0.003, 0.985, "Macd_Correct_Hull_Style(12,26,9) -0.000460 -0.000415 -0.000875",
         transform=ax3.transAxes, ha='left', va='top', fontsize=FT, color=TXT)

ax3.tick_params(axis='x', bottom=True, labelbottom=True, length=2, pad=0.5, labelsize=5.5,
                colors=TXT, width=0.6)
ax3.set_xticks(time_ticks)
ax3.set_xticklabels(time_labels, ha='left')

# watermark
fig.add_artist(Ellipse((1116 / W, 1 - 677 / H), 26 / W, 20 / H, transform=fig.transFigure,
                       fc="white", ec="#8a8a8a", lw=0.8))
fig.text(1135 / W, 1 - 676 / H, "@FxScotty", ha='left', va='center', fontsize=20,
         color="white", family=['Lato', 'DejaVu Sans'], weight='light',
         path_effects=[pe.withStroke(linewidth=1.4, foreground="#7a7a7a")])

fig.savefig("out.png", dpi=100, facecolor=fig.get_facecolor())
